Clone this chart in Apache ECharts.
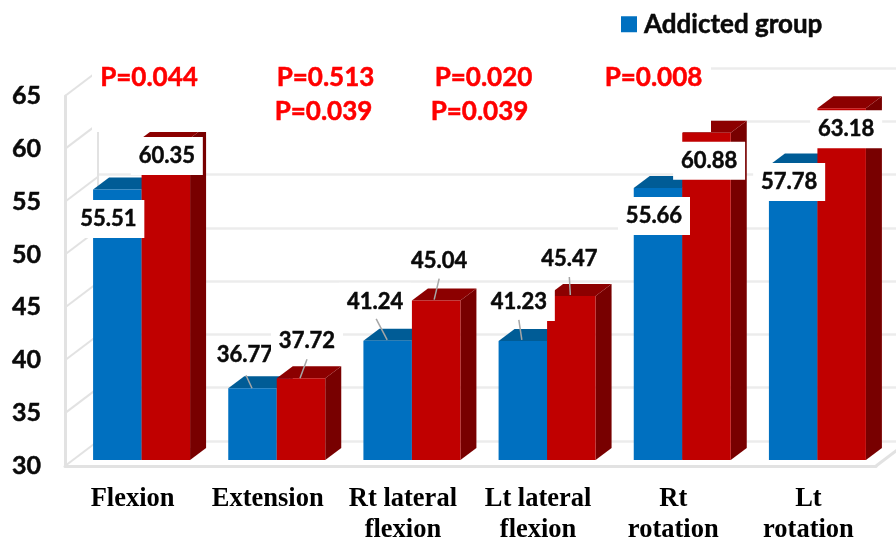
<!DOCTYPE html>
<html>
<head>
<meta charset="utf-8">
<style>html,body{margin:0;padding:0;background:#fff}#c{width:896px;height:540px}</style>
<script src="https://cdn.jsdelivr.net/npm/echarts@6/dist/echarts.min.js"></script>
</head>
<body>
<div id="c"></div>
<script>
const categories = ['Flexion', 'Extension', 'Rt lateral\nflexion', 'Lt lateral\nflexion', 'Rt\nrotation', 'Lt\nrotation'];
const addictedValues = [55.51, 36.77, 41.24, 41.23, 55.66, 57.78];
const otherValues = [60.35, 37.72, 45.04, 45.47, 60.88, 63.18];
const yTicks = [30, 35, 40, 45, 50, 55, 60, 65];
const pLabels = [
  ['P=0.044', 149, 78], ['P=0.513', 325.5, 78], ['P=0.039', 323.5, 112],
  ['P=0.020', 483.5, 78], ['P=0.039', 479.5, 112], ['P=0.008', 653.5, 78]
];
// label centre relative to the top-centre of the bar, and leader line ends relative to the same point (null = no leader)
const addictedLabelLayout = [
  { at: [-9, 29.5] },
  { at: [-7.6, -33], leader: [[-6.5, -13], [-0.5, 0]] },
  { at: [-12.6, -39], leader: [[-11.5, -22], [-0.5, -1]] },
  { at: [-4, -39], leader: [[-4, -21], [-1, -1]] },
  { at: [-4, 28] },
  { at: [-4, 16.5] }
];
const otherLabelLayout = [
  { at: [1, 17.7] },
  { at: [6, -37], leader: [[6, -19], [-1, 0]] },
  { at: [3, -40], leader: [[3, -22], [-2, -1]] },
  { at: [-2, -37], leader: [[-2, -19], [-1, -1]] },
  { at: [2.6, 28] },
  { at: [4.5, 21] }
];

const BAR_W = 48.5, DX = 16, DY = -12;
const WALL_DX = 33, WALL_DY = -25;
const FRAME = '#e2e2e2', GRIDC = '#ececec';
const latin = 'Lato, "Open Sans", sans-serif';

function barRenderer(side, front, top, dark) {
  return function (params, api) {
    const i = api.value(0), v = api.value(1);
    const c = api.coord([i, v]), b = api.coord([i, 30]);
    const x0 = side < 0 ? c[0] - BAR_W : c[0], x1 = x0 + BAR_W;
    const yT = c[1], yB = b[1];
    return {
      type: 'group',
      children: [
        { type: 'polygon', shape: { points: [[x1, yT], [x1 + DX, yT + DY], [x1 + DX, yB + DY], [x1, yB]] }, style: { fill: dark } },
        { type: 'polygon', shape: { points: [[x0, yT], [x0 + DX, yT + DY], [x1 + DX, yT + DY], [x1, yT]] }, style: { fill: top } },
        { type: 'rect', shape: { x: x0, y: yT, width: BAR_W, height: yB - yT }, style: { fill: front } }
      ]
    };
  };
}
function labelRenderer(side, layout) {
  return function (params, api) {
    const i = api.value(0), v = api.value(1);
    const c = api.coord([i, v]);
    const ax = c[0] + side * BAR_W / 2, ay = c[1];
    const l = layout[params.dataIndex];
    const cx = ax + l.at[0], cy = ay + l.at[1];
    const children = [
      { type: 'rect', shape: { x: cx - 36, y: cy - 19, width: 72, height: 38 }, style: { fill: '#fff' } },
      { type: 'text', style: { x: cx, y: cy, text: v.toFixed(2), fill: '#0a0a0a', stroke: '#0a0a0a', lineWidth: 0.5, font: 'bold 22px ' + latin, align: 'center', verticalAlign: 'middle' } }
    ];
    if (l.leader) {
      children.push({ type: 'line', shape: { x1: ax + l.leader[0][0], y1: ay + l.leader[0][1], x2: ax + l.leader[1][0], y2: ay + l.leader[1][1] }, style: { stroke: '#a6a6a6', lineWidth: 1.5 } });
    }
    return { type: 'group', children };
  };
}
function wallRenderer(params, api) {
  const v = api.value(0);
  const half = api.size([1, 0])[0] / 2;
  const l = api.coord([0, v]), r = api.coord([categories.length - 1, v]);
  const xl = l[0] - half, xr = r[0] + half, y = l[1];
  const children = [{ type: 'line', shape: { x1: xl, y1: y, x2: xl + WALL_DX, y2: y + WALL_DY }, style: { stroke: FRAME, lineWidth: 2 } }];
  if (v === yTicks[0]) {
    children.push({ type: 'line', shape: { x1: xr, y1: y, x2: xr + WALL_DX, y2: y + WALL_DY }, style: { stroke: FRAME, lineWidth: 3 } });
  }
  return { type: 'group', children };
}
const pairs = a => a.map((v, i) => [i, v]);

const chart = echarts.init(document.getElementById('c'), null, { renderer: 'canvas' });
chart.setOption({
  animation: false,
  backgroundColor: '#fff',
  legend: {
    data: ['Addicted group'], left: 616, top: 6, itemWidth: 16, itemHeight: 16, itemGap: 6,
    icon: 'rect', textStyle: { fontFamily: latin, fontWeight: 'bold', fontSize: 26, color: '#0a0a0a', textBorderColor: '#0a0a0a', textBorderWidth: 0.5, padding: [0, 0, 0, 2] }
  },
  grid: [
    { left: 65, top: 96, width: 811, height: 370, outerBoundsMode: 'none' },
    { left: 98, top: 68, width: 811, height: 373, outerBoundsMode: 'none' },
    { left: 74, top: 89, width: 811, height: 371, outerBoundsMode: 'none' }
  ],
  xAxis: [
    { type: 'category', gridIndex: 0, data: categories,
      axisLine: { lineStyle: { color: FRAME, width: 3 } }, axisTick: { show: false },
      axisLabel: { interval: 0, margin: 18, color: '#000', fontFamily: '"Liberation Serif", serif', fontWeight: 'bold', fontSize: 26.5, lineHeight: 31 } },
    { type: 'category', gridIndex: 1, data: categories, axisLine: { show: false }, axisTick: { show: false }, axisLabel: { show: false } },
    { type: 'category', gridIndex: 2, data: categories, axisLine: { show: false }, axisTick: { show: false }, axisLabel: { show: false } }
  ],
  yAxis: [
    { type: 'value', gridIndex: 0, min: 30, max: 65, interval: 5,
      axisLine: { show: true, lineStyle: { color: FRAME, width: 3 } }, axisTick: { show: false }, splitLine: { show: false },
      axisLabel: { margin: 24, padding: [4, 0, 0, 0], color: '#0a0a0a', fontFamily: latin, fontWeight: 'bold', fontSize: 25, textBorderColor: '#0a0a0a', textBorderWidth: 0.5 } },
    { type: 'value', gridIndex: 1, min: 30, max: 65, interval: 5,
      axisLine: { show: true, lineStyle: { color: FRAME, width: 2 } }, axisTick: { show: false }, axisLabel: { show: false },
      splitLine: { show: true, lineStyle: { color: GRIDC, width: 2.5 } } },
    { type: 'value', gridIndex: 2, min: 30, max: 65, interval: 5, show: false, splitLine: { show: false } }
  ],
  series: [
    { type: 'custom', name: 'Wall', xAxisIndex: 0, yAxisIndex: 0, z: 1, clip: false, silent: true,
      encode: { x: 1, y: 0 }, data: yTicks.map(v => [v, 0]),
      renderItem: wallRenderer },
    { type: 'custom', name: 'Addicted group', xAxisIndex: 2, yAxisIndex: 2, z: 2, clip: false,
      itemStyle: { color: '#0070C0' }, encode: { x: 0, y: 1 }, data: pairs(addictedValues),
      renderItem: barRenderer(-1, '#0070C0', '#005C96', '#004A78') },
    { type: 'custom', name: 'Comparison group', xAxisIndex: 2, yAxisIndex: 2, z: 3, clip: false,
      itemStyle: { color: '#C00000' }, encode: { x: 0, y: 1 }, data: pairs(otherValues),
      renderItem: barRenderer(1, '#C00000', '#8C0000', '#780000') },
    { type: 'custom', name: 'Addicted labels', xAxisIndex: 2, yAxisIndex: 2, z: 5, clip: false, silent: true,
      encode: { x: 0, y: 1 }, data: pairs(addictedValues),
      renderItem: labelRenderer(-1, addictedLabelLayout) },
    { type: 'custom', name: 'Comparison labels', xAxisIndex: 2, yAxisIndex: 2, z: 6, clip: false, silent: true,
      encode: { x: 0, y: 1 }, data: pairs(otherValues),
      renderItem: labelRenderer(1, otherLabelLayout) }
  ],
  graphic: {
    elements: [
      { type: 'rect', z: 4, silent: true, shape: { x: 92, y: 50, width: 619, height: 82 }, style: { fill: '#fff' } }
    ].concat(pLabels.map(p => ({
      type: 'text', z: 7, silent: true, x: p[1], y: p[2],
      style: { text: p[0], fill: '#FF0000', stroke: '#FF0000', lineWidth: 0.5, font: 'bold 26px ' + latin, align: 'center', verticalAlign: 'middle' }
    })))
  }
});
</script>
</body>
</html>
